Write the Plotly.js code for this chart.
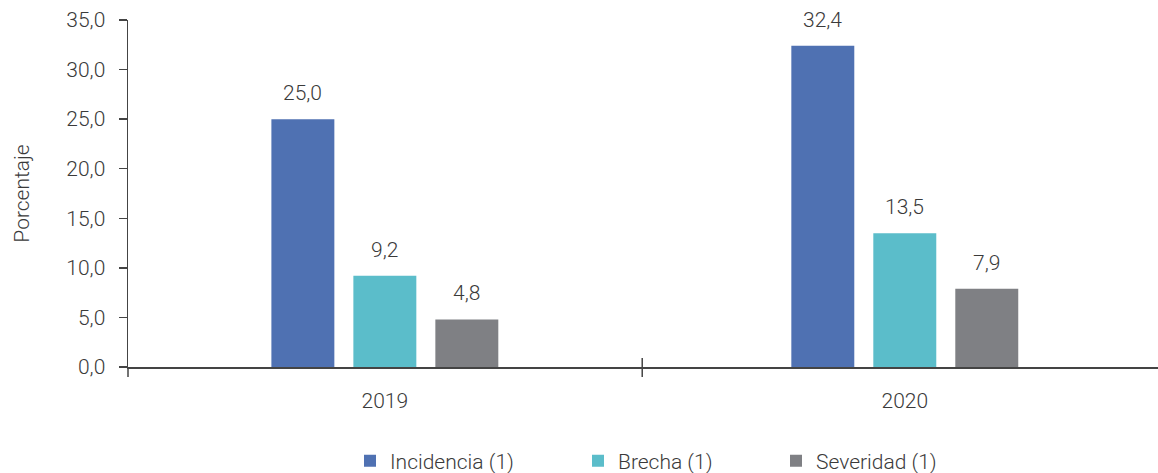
<!DOCTYPE html>
<html>
<head>
<meta charset="utf-8">
<script src="https://cdn.plot.ly/plotly-3.0.1.min.js"></script>
<style>html,body{margin:0;padding:0;background:#fff}#chart{width:1158px;height:473px}</style>
</head>
<body>
<div id="chart"></div>
<script>
const categories = ["2019", "2020"];
const seriesNames = ["Incidencia (1)", "Brecha (1)", "Severidad (1)"];
const incidencia = [25.0, 32.4];
const brecha = [9.2, 13.5];
const severidad = [4.8, 7.9];
const yTickVals = [0, 5, 10, 15, 20, 25, 30, 35];

const colors = ["#4F71B2", "#5BBDCA", "#7F8084"];
const seriesValues = [incidencia, brecha, severidad];
const FONT = "Roboto, 'Liberation Sans', sans-serif";
const TXT = "#3a3a3a";
const FS = 21;

const L = 128, R = 0, T = 20, B = 106, W = 1158, H = 473;
const ph = H - T - B;
const legendTextStarts = [390, 618, 816];

const traces = seriesValues.map((vals, i) => ({
  type: "bar",
  name: seriesNames[i],
  x: categories,
  y: vals,
  marker: {color: colors[i]},
  legend: i === 0 ? "legend" : "legend" + (i + 1),
  hoverinfo: "skip"
}));

const slotPx = 82;
const annotations = [];
seriesValues.forEach((vals, i) => {
  vals.forEach((v, j) => {
    annotations.push({
      x: j, y: v, xref: "x", yref: "y",
      text: v.toFixed(1).replace(".", ","),
      showarrow: false, xanchor: "center", yanchor: "bottom",
      xshift: (i - 1) * slotPx, yshift: 12,
      font: {family: FONT, size: FS, color: TXT, weight: 300}
    });
  });
});

const legendBase = {
  orientation: "h", yref: "container", y: 1 - 461 / H, yanchor: "middle",
  xanchor: "left", font: {family: FONT, size: FS, color: TXT, weight: 300},
  bgcolor: "rgba(0,0,0,0)"
};
const pw = W - L - R;
function legendAt(k) {
  return Object.assign({}, legendBase, {x: (legendTextStarts[k] - 40 - L) / pw});
}

const layout = {
  width: W, height: H,
  margin: {l: L, r: R, t: T, b: B, pad: 0},
  paper_bgcolor: "#fff", plot_bgcolor: "#fff",
  separators: ",.",
  font: {family: FONT, size: FS, color: TXT, weight: 300},
  barmode: "group", bargap: 0.527, bargroupgap: 0.232,
  showlegend: true,
  legend: legendAt(0), legend2: legendAt(1), legend3: legendAt(2),
  xaxis: {
    type: "category", range: [-0.494, 1.487],
    showline: true, linecolor: "#444", linewidth: 1.5,
    ticks: "outside", ticklen: 14, tickcolor: "rgba(0,0,0,0)",
    showgrid: false, zeroline: false,
    tickfont: {family: FONT, size: FS, color: TXT, weight: 300}
  },
  yaxis: {
    range: [0, 35], tickvals: yTickVals, tickformat: ".1f",
    showline: true, linecolor: "#444", linewidth: 1.5,
    ticks: "outside", ticklen: 8, tickcolor: "#444", tickwidth: 1.5,
    ticklabelstandoff: 9,
    showgrid: false, zeroline: false,
    tickfont: {family: FONT, size: FS, color: TXT, weight: 300},
    title: {text: "Porcentaje", standoff: 31, font: {family: FONT, size: FS, color: TXT, weight: 300}}
  },
  shapes: [
    {type: "line", xref: "x", yref: "paper", x0: 0.495, x1: 0.495,
     y0: -10 / ph, y1: 9 / ph, layer: "above", line: {color: "#444", width: 1.5}},
    {type: "line", xref: "paper", yref: "paper", x0: 0, x1: 0,
     y0: -10 / ph, y1: 0, layer: "above", line: {color: "#444", width: 1.5}}
  ],
  annotations: annotations
};

Plotly.newPlot("chart", traces, layout, {displayModeBar: false, staticPlot: true});
</script>
</body>
</html>
